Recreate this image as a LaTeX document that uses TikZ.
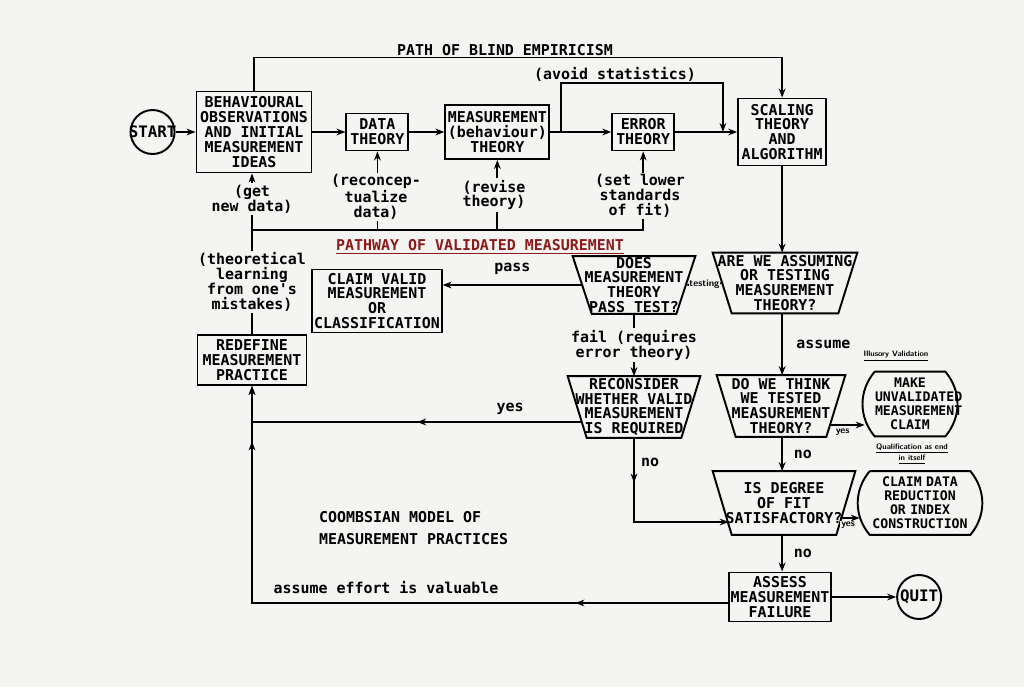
\documentclass[tikz,border=0pt]{standalone}
\usepackage{fontspec}
\setmonofont{DejaVu Sans Mono}
\usetikzlibrary{arrows.meta,positioning,calc,decorations.markings}
\definecolor{paper}{HTML}{F4F4F2}
\definecolor{pathred}{HTML}{8B1A1A}
\newcommand{\typefont}{\ttfamily\bfseries\fontsize{8.5}{8.5}\selectfont}
\newcommand{\minifont}{\sffamily\bfseries\fontsize{5.5}{6}\selectfont}

\begin{document}
\begin{tikzpicture}[
  x=0.02cm, y=-0.02cm,
  box/.style={draw, line width=1.1pt, align=center, font=\typefont, inner sep=1pt},
  trap/.style={align=center, font=\typefont, inner sep=0pt},
  pill/.style={align=center, font=\ttfamily\bfseries\fontsize{7.5}{8}\selectfont, inner xsep=0pt, inner ysep=1pt},
  term/.style={draw, circle, line width=1.1pt, inner sep=0pt, minimum size=0.88cm},
  lab/.style={font=\typefont, align=center, fill=paper, inner sep=1pt},
  minilab/.style={font=\minifont, fill=paper, inner sep=0.5pt},
  arr/.style={line width=1pt, -{Stealth[length=1.8mm]}},
  midarr/.style={postaction={decorate, decoration={markings, mark=at position #1 with {\arrow{Stealth[length=1.8mm]}}}}}
]
\fill[paper] (0,0) rectangle (1024,687);
\useasboundingbox (0,0) rectangle (1024,687);

% top row
\node[box, minimum width=2.3cm, minimum height=1.62cm] (behav) at (254,132) {BEHAVIOURAL\\OBSERVATIONS\\AND INITIAL\\MEASUREMENT\\IDEAS};
\node[term, left=0.4cm of behav, label={[font=\ttfamily\bfseries\fontsize{9}{9}\selectfont]center:START}] (start) {};
\node[box, minimum width=1.24cm, minimum height=0.74cm, right=0.66cm of behav] (data) {DATA\\THEORY};
\node[box, minimum width=2.08cm, minimum height=1.08cm, right=0.7cm of data] (meas) {MEASUREMENT\\(behaviour)\\THEORY};
\node[box, minimum width=1.24cm, minimum height=0.74cm, right=1.22cm of meas] (error) {ERROR\\THEORY};
\node[box, minimum width=1.76cm, minimum height=1.34cm, right=1.24cm of error] (scaling) {SCALING\\THEORY\\AND\\ALGORITHM};

% decision boxes
\node[trap, minimum width=2.44cm, minimum height=1.14cm] (does) at (634,285) {DOES\\MEASUREMENT\\THEORY\\PASS TEST?};
\node[trap, minimum width=2.88cm, minimum height=1.2cm] (assume) at (785,283) {ARE WE ASSUMING\\OR TESTING\\MEASUREMENT\\THEORY?};
\node[trap, minimum width=2.64cm, minimum height=1.22cm] (recon) at (634,407) {RECONSIDER\\WHETHER VALID\\MEASUREMENT\\IS REQUIRED};
\node[trap, minimum width=2.56cm, minimum height=1.22cm] (think) at (781,406) {DO WE THINK\\WE TESTED\\MEASUREMENT\\THEORY?};
\node[trap, minimum width=2.84cm, minimum height=1.26cm] (fit) at (784,503) {IS DEGREE\\OF FIT\\SATISFACTORY?};
\foreach \n in {does,assume,recon,think,fit}
  \draw[line width=1.1pt] (\n.north west) -- (\n.north east) -- ([xshift=-0.38cm]\n.south east) -- ([xshift=0.38cm]\n.south west) -- cycle;

% outcomes
\node[box, minimum width=2.56cm, minimum height=1.26cm] (claim) at (377,301) {CLAIM VALID\\MEASUREMENT\\OR\\CLASSIFICATION};
\node[box, minimum width=2.18cm, minimum height=1.0cm] (redefine) at (252,360) {REDEFINE\\MEASUREMENT\\PRACTICE};
\node[box, minimum width=2.0cm, minimum height=0.98cm] (assess) at (780,597) {ASSESS\\MEASUREMENT\\FAILURE};
\node[term, right=1.28cm of assess, label={[font=\ttfamily\bfseries\fontsize{9}{9}\selectfont]center:QUIT}] (quit) {};
\node[pill, text width=1.4cm, minimum height=1.28cm] (unval) at (910,404) {MAKE\\UNVALIDATED\\MEASUREMENT\\CLAIM};
\node[pill, text width=2.0cm, minimum height=1.26cm] (claimdr) at (920,503) {CLAIM DATA\\REDUCTION\\OR INDEX\\CONSTRUCTION};
\foreach \n in {unval,claimdr}
  \draw[line width=1.1pt] (\n.north west) -- (\n.north east) to[bend left=40] (\n.south east) -- (\n.south west) to[bend left=40] (\n.north west);

% main line
\draw[arr] (start) -- (behav);
\draw[arr] (behav) -- (data);
\draw[arr] (data) -- (meas);
\draw[arr] (meas) -- (error);
\draw[arr] (error) -- (scaling);

% path of blind empiricism
\draw[arr] (behav.north) -- ++(0,-33) -| (scaling.north);
\node[font=\typefont] (blind) at (505,50) {PATH OF BLIND EMPIRICISM};

% avoid statistics
\coordinate (split) at ($(meas.east)!0.18!(error.west)$);
\coordinate (merge) at ($(error.east)!0.77!(scaling.west)$);
\draw[arr] (split) -- ++(0,-49) -| (merge);
\node[font=\typefont] (avoid) at (615,74) {(avoid statistics)};

% feedback from redefining practice
\coordinate (bus) at (252,230);
\draw[arr] (redefine.north) -- (redefine.north |- behav.south);
\draw[arr] (bus) -| (error.south);
\draw[arr] (bus -| data.south) -- (data.south);
\draw[arr] (bus -| meas.south) -- (meas.south);
\node[lab] (newdata) at (252,199) {(get\\new data)};
\node[lab] (reconc) at (376,197) {(reconcep-\\tualize\\data)};
\node[lab] (revise) at (494,195) {(revise\\theory)};
\node[lab] (lower) at (640,196) {(set lower\\standards\\of fit)};
\node[lab] (learn) at (252,282) {(theoretical\\learning\\from one's\\mistakes)};

\node[font=\typefont, text=pathred] (pathway) at (480,247) {\underline{PATHWAY OF VALIDATED MEASUREMENT}};

% right column
\draw[arr] (scaling.south) -- (scaling.south |- assume.north);
\draw[arr] (assume.south -| scaling.south) -- (think.north -| scaling.south) node[midway, right=0.15cm, font=\typefont] {assume};
\draw[arr] (think.south -| scaling.south) -- (fit.north -| scaling.south) node[midway, right=0.1cm, font=\typefont] {no};
\draw[arr] (fit.south -| scaling.south) -- (assess.north -| scaling.south) node[midway, right=0.1cm, font=\typefont] {no};

% testing / pass / fail
\coordinate (doesE) at ([xshift=-0.19cm]does.east);
\coordinate (doesW) at ([xshift=0.19cm]does.west);
\draw[arr] ([xshift=0.21cm]assume.west) -- (doesE) node[midway, minilab] {testing};
\draw[arr] (doesW) -- (doesW -| claim.east) node[midway, above=2pt, font=\typefont] {pass};
\draw[arr] (does.south) -- (recon.north) node[midway, lab] {fail (requires\\error theory)};

% reconsider
\coordinate (reconW) at ([xshift=0.28cm,yshift=-0.3cm]recon.west);
\draw[arr, midarr=0.45] (reconW) -| (redefine.south);
\node[font=\typefont] (yes1) at (510,409) {yes};
\coordinate (fitW) at ([xshift=0.32cm,yshift=-0.38cm]fit.west);
\draw[arr, midarr=0.25] (recon.south) |- (fitW);
\node[font=\typefont] (no1) at (650,462) {no};

% yes exits
\coordinate (thinkE) at ([xshift=-0.29cm,yshift=-0.38cm]think.east);
\draw[arr] (thinkE) -- ($(thinkE -| unval.west)+(-10,0)$) node[pos=0.35, below=1pt, minilab] {yes};
\coordinate (fitE) at ([xshift=-0.3cm,yshift=-0.3cm]fit.east);
\draw[arr] (fitE) -- ($(fitE -| claimdr.west)+(-10,0)$) node[pos=0.4, below=1pt, minilab] {yes};
\node[font=\sffamily\bfseries\fontsize{4.5}{5}\selectfont] (illus) at (896,356) {\underline{Illusory Validation}};
\node[font=\sffamily\bfseries\fontsize{4.5}{5}\selectfont, align=center] (qual) at (912,454) {\underline{Qualification as end}\\\underline{in itself}};

% failure
\draw[arr] (assess) -- (quit);
\draw[arr, midarr=0.22, midarr=0.92] ([yshift=-0.12cm]assess.west) -| (redefine.south);
\node[font=\typefont] (effort) at (386,588) {assume effort is valuable};
\node[font=\typefont, align=left, anchor=west] (title) at (313,528) {COOMBSIAN MODEL OF\\[4pt]MEASUREMENT PRACTICES};
\end{tikzpicture}
\end{document}
